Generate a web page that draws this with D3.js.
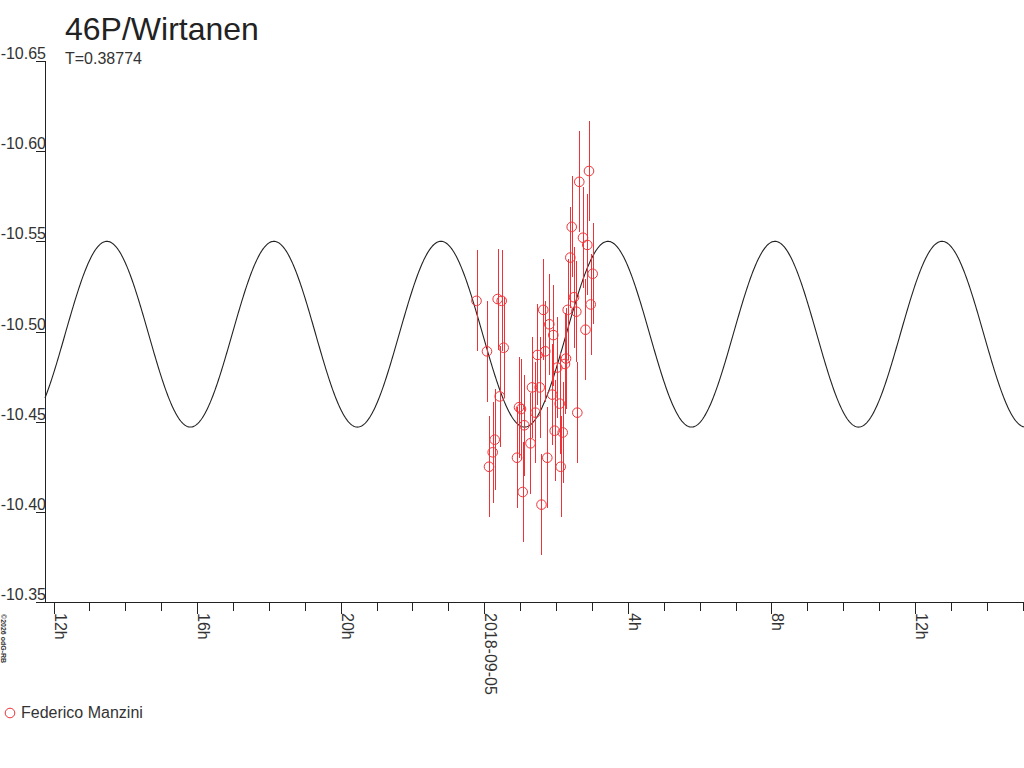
<!DOCTYPE html>
<html>
<head>
<meta charset="utf-8">
<script src="https://cdn.jsdelivr.net/npm/d3@7"></script>
<style>
  body { margin: 0; background: #fff; }
  text { font-family: "Liberation Sans", Arial, sans-serif; }
</style>
</head>
<body>
<div id="container"></div>
<script>
// Observations: hours relative to 2018-09-05 00:00 UT, magnitude and error
const obsHours = [
  -0.217, 0.075, 0.131, 0.234, 0.290, 0.373, 0.429, 0.485, 0.540, 0.911,
  0.967, 1.022, 1.070, 1.114, 1.287, 1.329, 1.426, 1.482, 1.543, 1.593,
  1.643, 1.699, 1.755, 1.811, 1.894, 1.922, 1.961, 2.033, 2.100, 2.128,
  2.184, 2.248, 2.276, 2.323, 2.396, 2.435, 2.499, 2.563, 2.591, 2.646,
  2.749, 2.819, 2.869, 2.916, 2.964, 3.019
];
const obsMag = [
  -10.517, -10.489, -10.425, -10.433, -10.440, -10.518, -10.464, -10.517, -10.491, -10.430,
  -10.458, -10.457, -10.411, -10.448, -10.438, -10.469, -10.455, -10.487, -10.469, -10.404,
  -10.512, -10.489, -10.430, -10.504, -10.465, -10.498, -10.445, -10.480, -10.460, -10.425,
  -10.444, -10.482, -10.485, -10.512, -10.541, -10.558, -10.519, -10.511, -10.455, -10.583,
  -10.552, -10.501, -10.548, -10.589, -10.515, -10.532
];
const obsErr = [
  0.028, 0.028, 0.028, 0.028, 0.028, 0.028, 0.028, 0.028, 0.028, 0.028,
  0.028, 0.028, 0.028, 0.028, 0.028, 0.028, 0.028, 0.028, 0.028, 0.028,
  0.028, 0.028, 0.028, 0.028, 0.028, 0.028, 0.028, 0.028, 0.028, 0.028,
  0.028, 0.028, 0.028, 0.028, 0.028, 0.028, 0.028, 0.028, 0.028, 0.028,
  0.028, 0.028, 0.028, 0.028, 0.028, 0.028
];
const observer = "Federico Manzini";

// Fitted lightcurve (double-peaked, period T in days)
const periodDays = 0.38774;
const fitMean = -10.4985;
const fitAmp = 0.0515;
const fitPeakHour = 3.445;

const yTicks = [-10.65, -10.60, -10.55, -10.50, -10.45, -10.40, -10.35];
const baseTime = Date.UTC(2018, 8, 5);
const startHour = -12.237;
const endHour = 15.034;

const width = 1024;
const height = 768;
const marginLeft = 45;
const marginTop = 61;
const plotBottom = 602;
const plotRight = 1024;
const red = "#ee3338";
const ink = "#222";

const svg = d3.create("svg").attr("width", width).attr("height", height);

const hourMs = 3600 * 1000;
const x = d3.scaleUtc()
  .domain([new Date(baseTime + startHour * hourMs), new Date(baseTime + endHour * hourMs)])
  .range([marginLeft, plotRight]);

const y = d3.scaleLinear()
  .domain([-10.65, -10.35])
  .range([marginTop, plotBottom]);

// Title
svg.append("text")
  .attr("x", 65).attr("y", 40)
  .attr("font-size", "32px").attr("fill", ink)
  .text("46P/Wirtanen");
svg.append("text")
  .attr("x", 65).attr("y", 64)
  .attr("font-size", "16px").attr("fill", "#333")
  .text(`T=${periodDays}`);

// Y axis
const yAxis = svg.append("g");
yAxis.append("line")
  .attr("x1", marginLeft + 0.5).attr("x2", marginLeft + 0.5)
  .attr("y1", y(-10.65)).attr("y2", plotBottom)
  .attr("stroke", ink);
yAxis.selectAll("line.tick")
  .data(yTicks)
  .join("line")
  .attr("class", "tick")
  .attr("x1", 36).attr("x2", marginLeft + 0.5)
  .attr("y1", (d) => Math.round(y(d)) + 0.5)
  .attr("y2", (d) => Math.round(y(d)) + 0.5)
  .attr("stroke", ink);
yAxis.selectAll("text")
  .data(yTicks)
  .join("text")
  .attr("x", 46)
  .attr("y", (d) => Math.round(y(d)) - 2)
  .attr("text-anchor", "end")
  .attr("font-size", "16px")
  .attr("fill", "#333")
  .text((d) => d.toFixed(2));

// X axis
const xAxis = svg.append("g");
xAxis.append("line")
  .attr("x1", 36).attr("x2", plotRight)
  .attr("y1", plotBottom + 0.5).attr("y2", plotBottom + 0.5)
  .attr("stroke", ink);
const hourTicks = x.ticks(d3.utcHour.every(1));
xAxis.selectAll("line.tick")
  .data(hourTicks)
  .join("line")
  .attr("class", "tick")
  .attr("x1", (d) => Math.round(x(d)) + 0.5)
  .attr("x2", (d) => Math.round(x(d)) + 0.5)
  .attr("y1", plotBottom)
  .attr("y2", (d) => (d.getUTCHours() % 4 === 0 ? plotBottom + 12 : plotBottom + 9))
  .attr("stroke", ink);
xAxis.selectAll("text")
  .data(hourTicks.filter((d) => d.getUTCHours() % 4 === 0))
  .join("text")
  .attr("transform", (d) => `translate(${Math.round(x(d)) + 1},613) rotate(90)`)
  .attr("font-size", "16px")
  .attr("fill", "#333")
  .text((d) => (d.getUTCHours() === 0 ? d3.utcFormat("%Y-%m-%d")(d) : `${d.getUTCHours()}h`));

// Fitted curve
const halfPeriodH = (periodDays * 24) / 2;
const curveHours = d3.range(startHour, endHour + 0.01, 0.02);
const line = d3.line()
  .x((h) => x(new Date(baseTime + h * hourMs)))
  .y((h) => y(fitMean - fitAmp * Math.cos((2 * Math.PI * (h - fitPeakHour)) / halfPeriodH)));
svg.append("path")
  .datum(curveHours)
  .attr("d", line)
  .attr("fill", "none")
  .attr("stroke", ink)
  .attr("stroke-width", 1.1);

// Observations
const obs = obsHours.map((h, i) => ({ t: new Date(baseTime + h * hourMs), mag: obsMag[i], err: obsErr[i] }));
const pts = svg.append("g");
pts.selectAll("line")
  .data(obs)
  .join("line")
  .attr("x1", (d) => Math.round(x(d.t)) + 0.5)
  .attr("x2", (d) => Math.round(x(d.t)) + 0.5)
  .attr("y1", (d) => y(d.mag - d.err))
  .attr("y2", (d) => y(d.mag + d.err))
  .attr("stroke", red)
  .attr("stroke-width", 1)
  .attr("shape-rendering", "crispEdges");
pts.selectAll("circle")
  .data(obs)
  .join("circle")
  .attr("cx", (d) => x(d.t))
  .attr("cy", (d) => y(d.mag))
  .attr("r", 4.8)
  .attr("fill", "none")
  .attr("stroke", red)
  .attr("stroke-width", 1);

// Legend
svg.append("circle")
  .attr("cx", 10).attr("cy", 713).attr("r", 4.8)
  .attr("fill", "none").attr("stroke", red);
svg.append("text")
  .attr("x", 21).attr("y", 718)
  .attr("font-size", "16px").attr("fill", "#333")
  .text(observer);

// Credit
svg.append("text")
  .attr("transform", "translate(1,614) rotate(90)")
  .attr("font-size", "7px").attr("font-weight", "bold").attr("fill", "#333")
  .text("©2026 odG-RB");

document.getElementById("container").append(svg.node());
</script>
</body>
</html>
